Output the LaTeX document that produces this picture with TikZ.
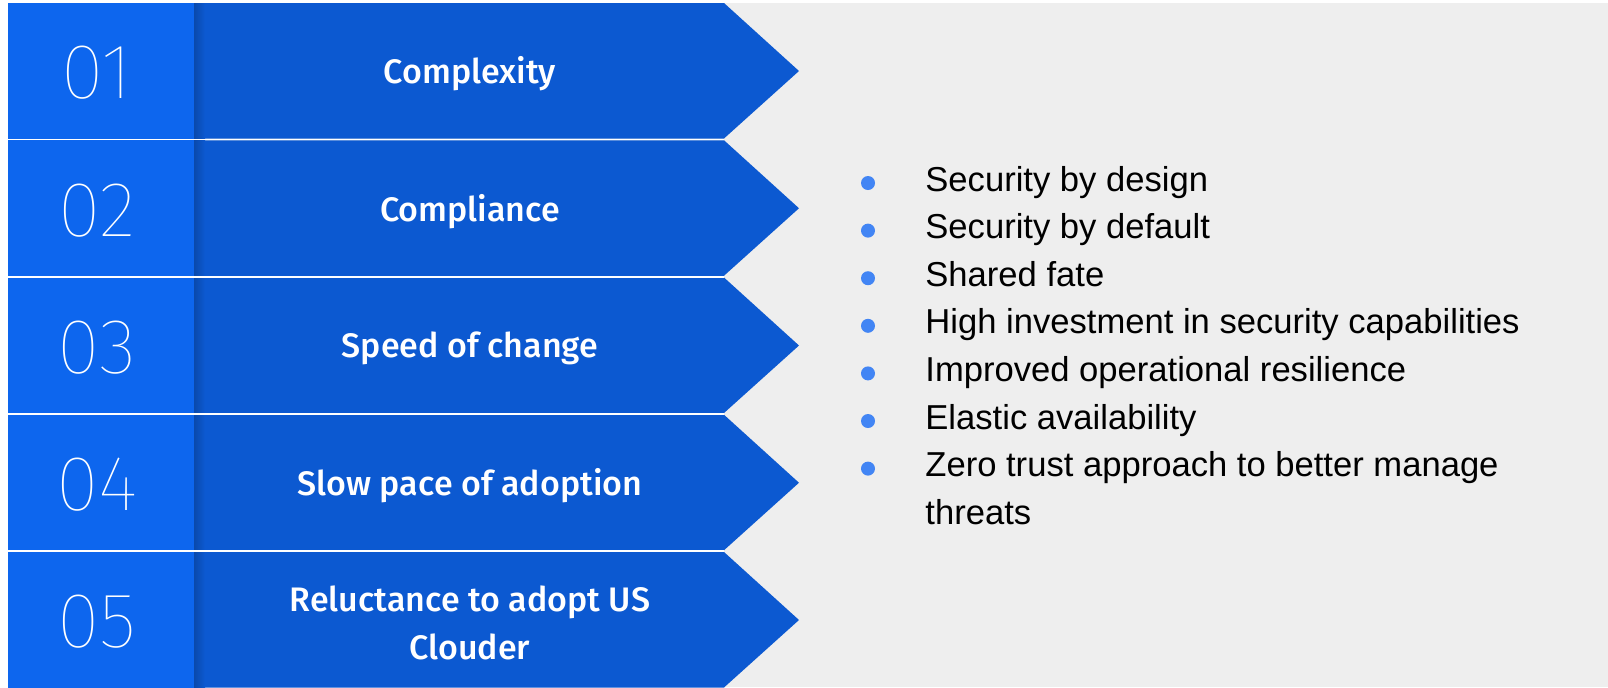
\documentclass[tikz,border=0pt]{standalone}
\usepackage{fontspec}
\setmainfont{Liberation Sans}
\newfontfamily\labfont{Fira Sans Medium}
\newfontfamily\numfont{Fira Sans Thin}
\definecolor{bggrey}{HTML}{EEEEEE}
\definecolor{numblue}{HTML}{0D66EE}
\definecolor{arrowblue}{HTML}{0C59D1}
\definecolor{bulletblue}{HTML}{4285F4}
\tikzset{
  numtext/.style={text=white, font=\numfont\fontsize{39}{46}\selectfont, inner sep=0pt},
  labtext/.style={text=white, font=\labfont\fontsize{17}{24}\selectfont, inner sep=0pt, align=center},
  itemtext/.style={text=black, font=\fontsize{17.3}{23.8}\selectfont, inner sep=0pt, anchor=base west},
  bulletdot/.style={circle, fill=bulletblue, minimum size=7pt, inner sep=0pt},
}
\begin{document}
\begin{tikzpicture}[x=0.5pt,y=-0.5pt]
\useasboundingbox (0,0) rectangle (1608,687);
\fill[white] (0,0) rectangle (1608,687);
\fill[bggrey] (8,3) rectangle (1608,687);
\foreach \i/\n/\t in {1/01/Complexity,2/02/Compliance,3/03/Speed of change,4/04/Slow pace of adoption,5/05/{Reluctance to adopt US\\Clouder}}{
  \pgfmathsetmacro{\top}{3+137.25*(\i-1)}
  \pgfmathsetmacro{\bot}{\top+135.5}
  \pgfmathsetmacro{\mid}{\top+68}
  \fill[arrowblue] (194,\top) -- (724,\top) -- (799,\mid) -- (724,\bot) -- (194,\bot) -- cycle;
  \fill[numblue] (8,\top) rectangle (194,\bot);
  \shade[left color=arrowblue!82!black, right color=arrowblue] (194,\top) rectangle (205,\bot);
  \node[numtext] (num\i) at (97,\mid+2) {\n};
  \node[labtext] (lab\i) at (470,\mid+3) {\t};
}
\foreach \i in {1,...,4}{
  \pgfmathsetmacro{\gt}{3+137.25*(\i-1)+135.5}
  \fill[white] (8,\gt) rectangle (724,\gt+1.75);
}
\foreach \k/\t in {1/Security by design,2/Security by default,3/Shared fate,4/High investment in security capabilities,5/Improved operational resilience,6/Elastic availability,7/Zero trust approach to better manage}{
  \pgfmathsetmacro{\yb}{191+47.6*(\k-1)}
  \node[bulletdot] (b\k) at (868,\yb-8) {};
  \node[itemtext] (it\k) at (925,\yb) {\t};
}
\node[itemtext] (it8) at (925,524.2) {threats};
\end{tikzpicture}
\end{document}
